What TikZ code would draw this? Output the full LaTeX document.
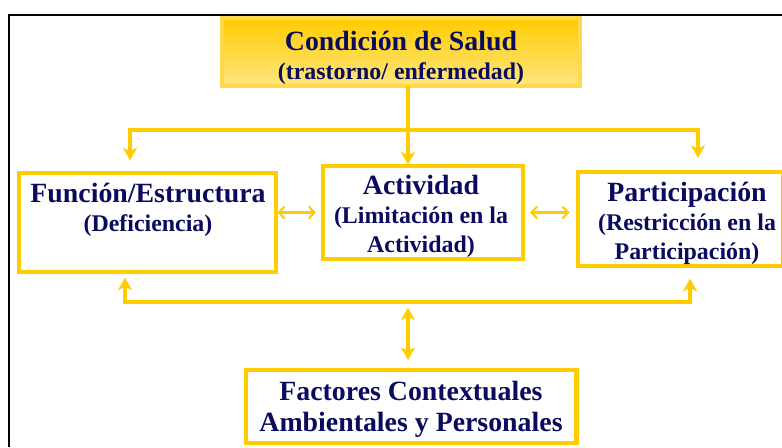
\documentclass[tikz,border=0pt]{standalone}
\usepackage{fontspec}
\setmainfont{Liberation Serif}
\usetikzlibrary{positioning, arrows.meta}
\definecolor{IcfGold}{HTML}{FFCC00}
\definecolor{IcfLight}{HTML}{FFE680}
\definecolor{IcfEdge}{HTML}{FFD84D}
\definecolor{IcfNavy}{HTML}{0A0A5E}
\newcommand{\icftitle}{\fontsize{19.8}{20.5}\selectfont\bfseries}
\newcommand{\icfsub}{\fontsize{17}{19}\selectfont\bfseries}

\begin{document}
\begin{tikzpicture}[x=0.025cm, y=-0.025cm,
    box/.style={draw=IcfGold, line width=3.5pt, fill=white, inner sep=0pt, outer sep=0pt},
    label/.style={text=IcfNavy, font=\icftitle, align=center, inner sep=0pt},
    conn/.style={draw=IcfGold, line width=2.8pt},
    arr/.style={conn, -{Stealth[length=9pt, width=10pt, inset=2.5pt]}},
    harr/.style={draw=IcfGold, line width=1.5pt, {Straight Barb[length=4pt, width=8.5pt]}-{Straight Barb[length=4pt, width=8.5pt]}}]
    \useasboundingbox (0,0) rectangle (782,447);
    \draw[line width=2pt] (9,447) -- (9,15) -- (782,15);

    \node[draw=IcfEdge, line width=2.5pt, top color=IcfGold, bottom color=IcfLight, inner sep=0pt, outer sep=0pt, minimum width=8.95cm, minimum height=1.7cm] (salud) at (401,52) {};
    \node[label] (salud-txt) at (401,58) {Condición de Salud\\{\icfsub (trastorno/ enfermedad)}};

    \node[box, minimum width=6.425cm, minimum height=2.475cm] (funcion) at (147.5,222.5) {};
    \node[label] (funcion-txt) at (148,210) {Función/Estructura\\{\icfsub (Deficiencia)}};

    \node[box, minimum width=5cm, minimum height=2.325cm] (actividad) at (423,212.5) {};
    \node[label] (actividad-txt) at (421,216.5) {Actividad\\{\icfsub (Limitación en la}\\{\icfsub Actividad)}};

    \node[box, minimum width=5.125cm, minimum height=2.35cm] (participacion) at (680.5,219) {};
    \node[label] (participacion-txt) at (687,223.5) {Participación\\{\icfsub (Restricción en la}\\{\icfsub Participación)}};

    \node[box, minimum width=8.25cm, minimum height=1.825cm] (factores) at (411,406.5) {};
    \node[label] (factores-txt) at (411,409) {Factores Contextuales\\[1.5pt]Ambientales y Personales};

    \coordinate (tl) at (130,130);
    \coordinate (tm) at (408,130);
    \coordinate (tr) at (698,130);
    \coordinate (bl) at (125,302);
    \coordinate (bm) at (408,302);
    \coordinate (br) at (690,302);

    % from the health condition down to the three components
    \draw[conn] (salud.south -| tm) -- (tm);
    \draw[arr, shorten >=9pt] (tm) -| (tl |- funcion.north);
    \draw[arr, shorten >=1pt] (tm) -- (tm |- actividad.north);
    \draw[arr, shorten >=10pt] (tm) -| (tr |- participacion.north);

    \draw[harr, shorten <=1pt, shorten >=5pt] (funcion.east |- actividad) -- (actividad.west);
    \draw[harr, shorten <=5pt, shorten >=6pt] (actividad.east) -- (participacion.west |- actividad);

    % contextual factors
    \draw[arr, shorten >=4pt] (bm) -| (bl |- funcion.south);
    \draw[arr, shorten >=9pt] (bm) -| (br |- participacion.south);
    \draw[conn, {Stealth[length=9pt, width=10pt, inset=2.5pt]}-{Stealth[length=9pt, width=10pt, inset=2.5pt]}, shorten <=4pt, shorten >=7pt] (bm) -- (bm |- factores.north);
\end{tikzpicture}
\end{document}
